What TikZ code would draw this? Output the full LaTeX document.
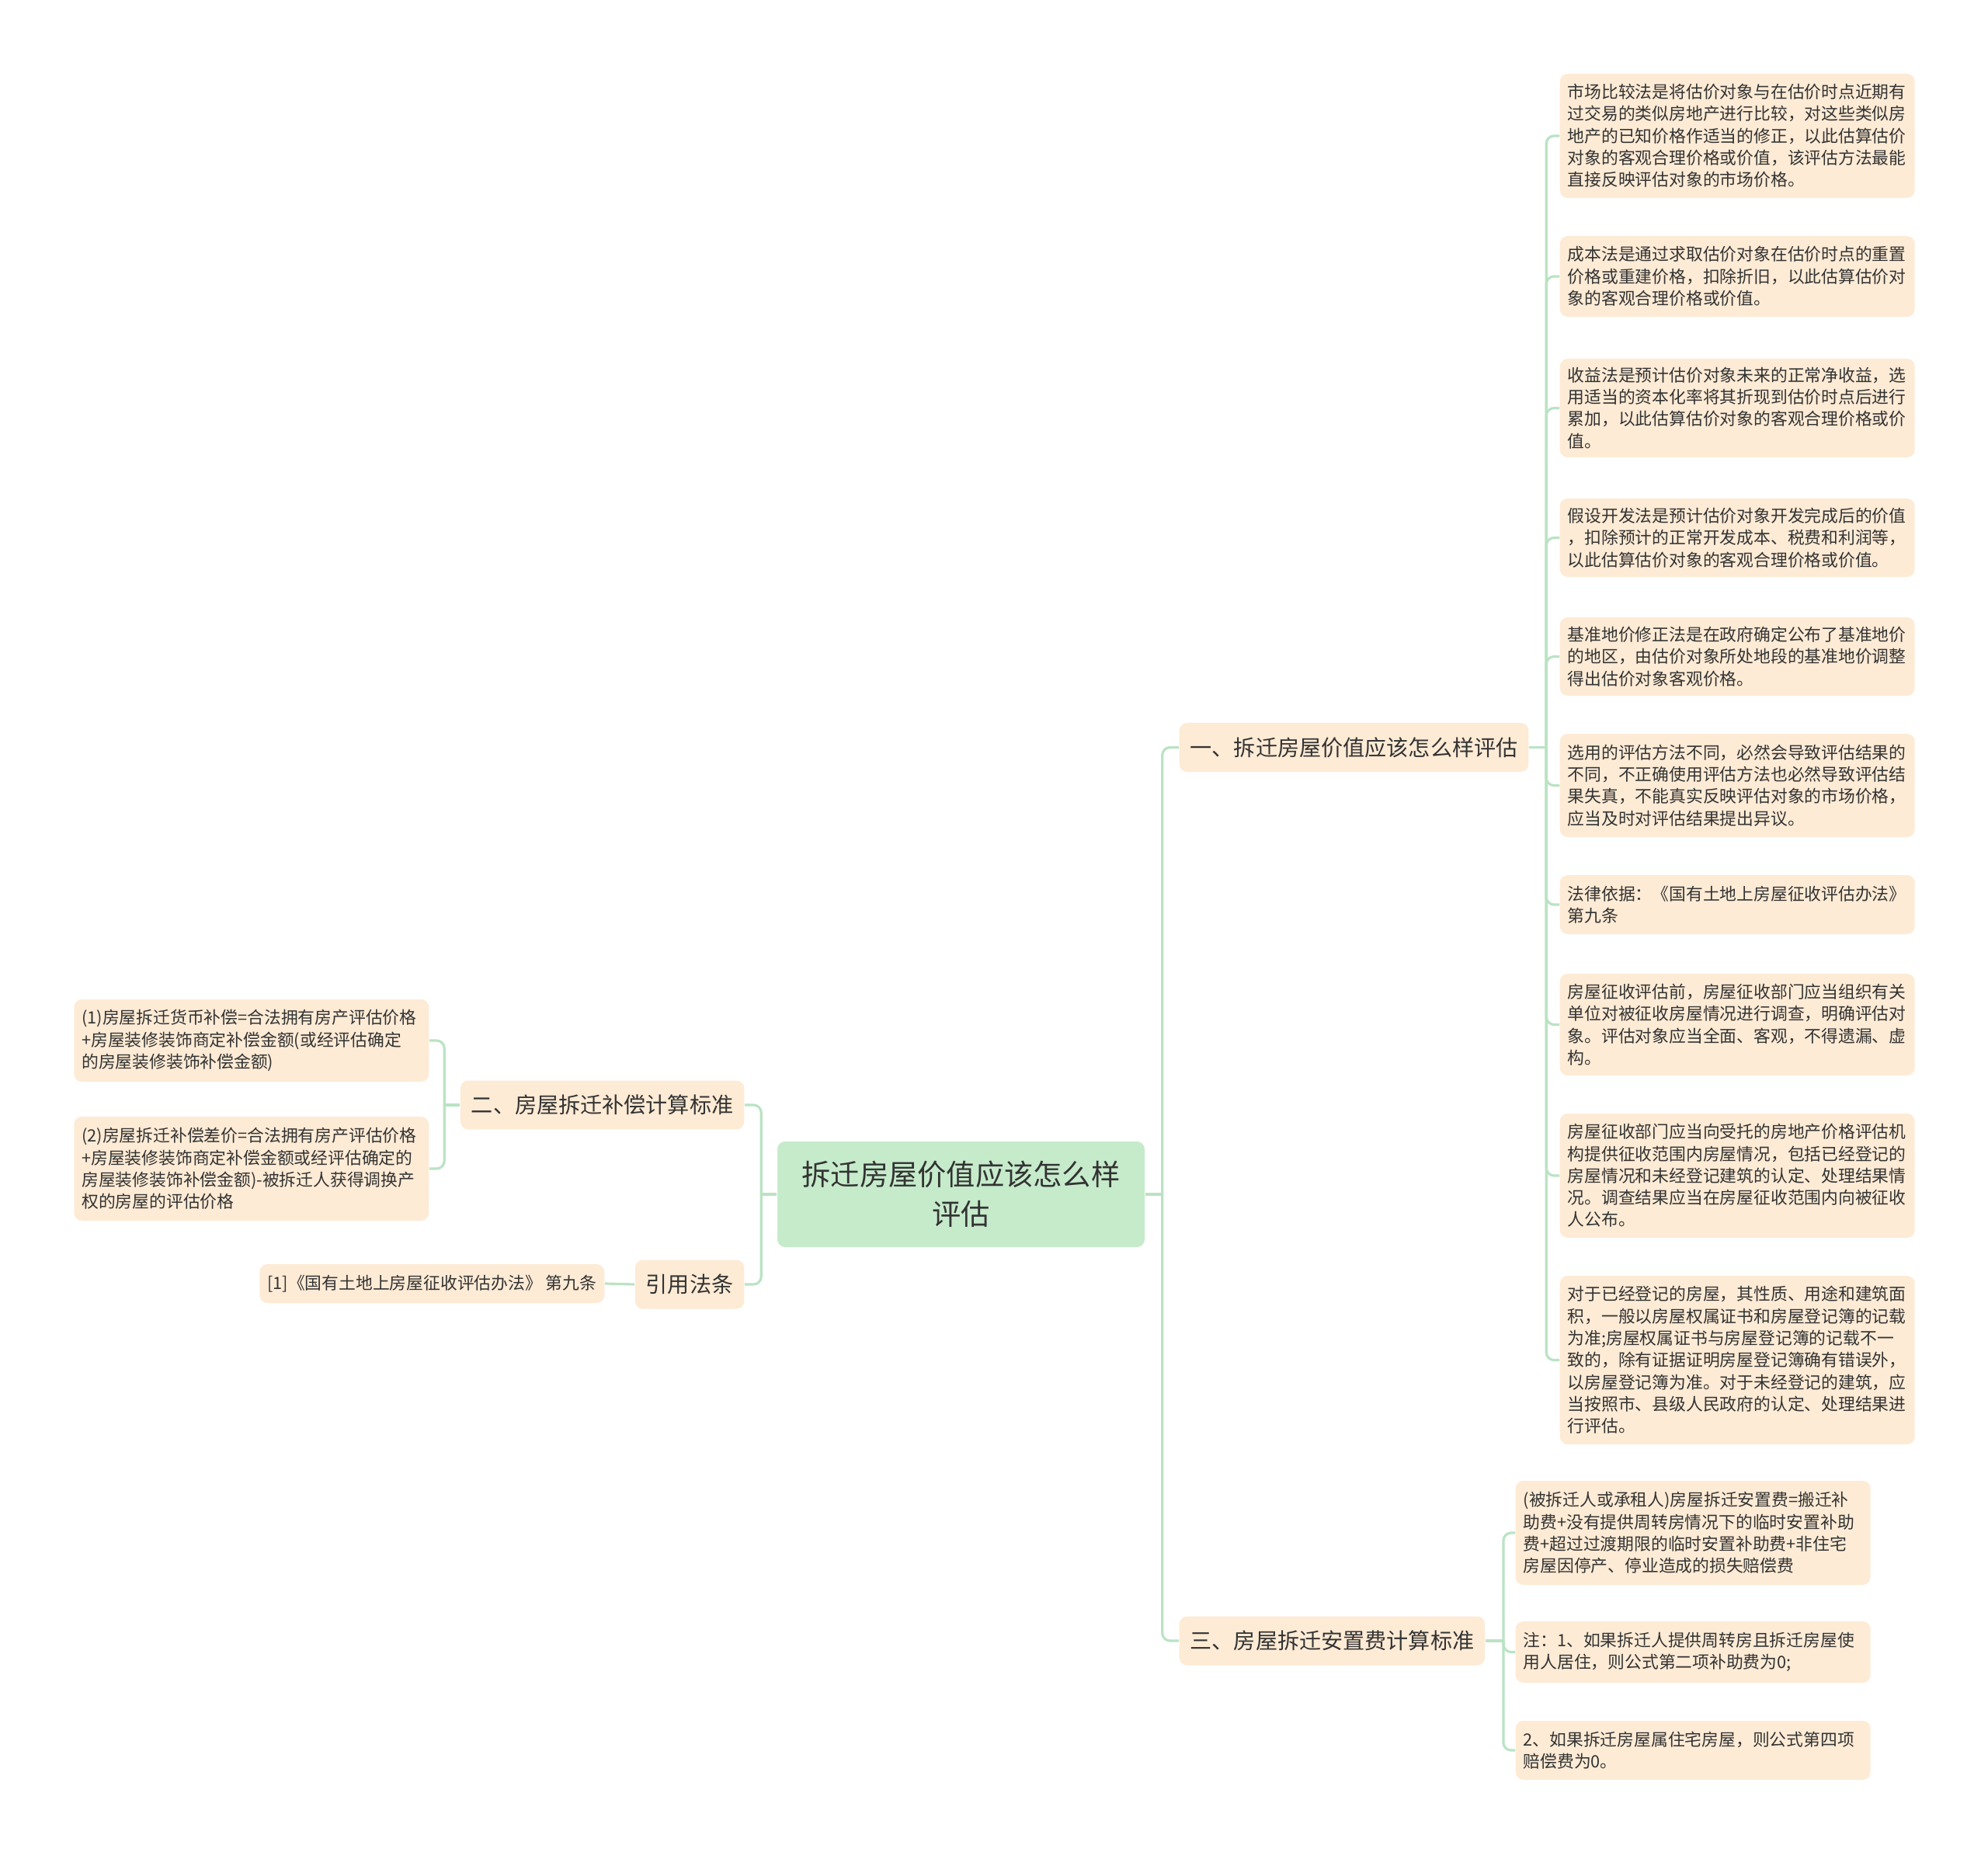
\documentclass[tikz,border=0pt]{standalone}
\usepackage{fontspec}
\setmainfont{Noto Sans CJK SC}
\usepackage{xcolor}
\definecolor{leaffill}{HTML}{FDEBD5}
\definecolor{rootfill}{HTML}{C6EBCB}
\definecolor{linegreen}{HTML}{BAE3C3}
\definecolor{inkgray}{HTML}{333333}
\tikzset{
  rootbox/.style={fill=rootfill, rounded corners=0.1cm, align=center, text=inkgray,
    minimum width=4.73cm, minimum height=1.36cm, font=\fontsize{10.6pt}{14.5pt}\selectfont},
  branchbox/.style={fill=leaffill, rounded corners=0.1cm, text=inkgray, inner xsep=0.14cm,
    minimum height=0.63cm, font=\fontsize{8pt}{10pt}\selectfont},
  leafbox/.style={fill=leaffill, rounded corners=0.1cm, text=inkgray, align=left,
    text width=4.37cm, inner xsep=0.1cm, inner ysep=0pt, font=\fontsize{6.2pt}{8.05pt}\selectfont},
  link/.style={draw=linegreen, line width=0.9pt, rounded corners=0.1cm}
}
\begin{document}
\begin{tikzpicture}[y=-1cm]
	\useasboundingbox (0,0) rectangle (25.6,23.85);
	\node[rootbox] (root) at (12.375,15.38) {拆迁房屋价值应该怎么样\\评估};
	\node[branchbox, anchor=west] (b1) at (15.18,9.625) {一、拆迁房屋价值应该怎么样评估};
	\node[branchbox, anchor=east] (b2) at (9.59,14.23) {二、房屋拆迁补偿计算标准};
	\node[branchbox, anchor=east] (b4) at (9.59,16.54) {引用法条};
	\node[branchbox, anchor=west] (b3) at (15.18,21.13) {三、房屋拆迁安置费计算标准};
	\node[leafbox, anchor=west, minimum height=1.60cm] (a1) at (20.08,1.75) {市场比较法是将估价对象与在估价时点近期有\\过交易的类似房地产进行比较，对这些类似房\\地产的已知价格作适当的修正，以此估算估价\\对象的客观合理价格或价值，该评估方法最能\\直接反映评估对象的市场价格。};
	\node[leafbox, anchor=west, minimum height=1.04cm] (a2) at (20.08,3.56) {成本法是通过求取估价对象在估价时点的重置\\价格或重建价格，扣除折旧，以此估算估价对\\象的客观合理价格或价值。};
	\node[leafbox, anchor=west, minimum height=1.27cm] (a3) at (20.08,5.255) {收益法是预计估价对象未来的正常净收益，选\\用适当的资本化率将其折现到估价时点后进行\\累加，以此估算估价对象的客观合理价格或价\\值。};
	\node[leafbox, anchor=west, minimum height=1.01cm] (a4) at (20.08,6.925) {假设开发法是预计估价对象开发完成后的价值\\，扣除预计的正常开发成本、税费和利润等，\\以此估算估价对象的客观合理价格或价值。};
	\node[leafbox, anchor=west, minimum height=1.01cm] (a5) at (20.08,8.455) {基准地价修正法是在政府确定公布了基准地价\\的地区，由估价对象所处地段的基准地价调整\\得出估价对象客观价格。};
	\node[leafbox, anchor=west, minimum height=1.33cm] (a6) at (20.08,10.115) {选用的评估方法不同，必然会导致评估结果的\\不同，不正确使用评估方法也必然导致评估结\\果失真，不能真实反映评估对象的市场价格，\\应当及时对评估结果提出异议。};
	\node[leafbox, anchor=west, minimum height=0.76cm] (a7) at (20.08,11.65) {法律依据：《国有土地上房屋征收评估办法》\\第九条};
	\node[leafbox, anchor=west, minimum height=1.31cm] (a8) at (20.08,13.195) {房屋征收评估前，房屋征收部门应当组织有关\\单位对被征收房屋情况进行调查，明确评估对\\象。评估对象应当全面、客观，不得遗漏、虚\\构。};
	\node[leafbox, anchor=west, minimum height=1.60cm] (a9) at (20.08,15.14) {房屋征收部门应当向受托的房地产价格评估机\\构提供征收范围内房屋情况，包括已经登记的\\房屋情况和未经登记建筑的认定、处理结果情\\况。调查结果应当在房屋征收范围内向被征收\\人公布。};
	\node[leafbox, anchor=west, minimum height=2.17cm] (a10) at (20.08,17.515) {对于已经登记的房屋，其性质、用途和建筑面\\积，一般以房屋权属证书和房屋登记簿的记载\\为准;房屋权属证书与房屋登记簿的记载不一\\致的，除有证据证明房屋登记簿确有错误外，\\以房屋登记簿为准。对于未经登记的建筑，应\\当按照市、县级人民政府的认定、处理结果进\\行评估。};
	\node[leafbox, anchor=west, minimum height=1.34cm] (c1) at (19.51,19.74) {(被拆迁人或承租人)房屋拆迁安置费=搬迁补\\助费+没有提供周转房情况下的临时安置补助\\费+超过过渡期限的临时安置补助费+非住宅\\房屋因停产、停业造成的损失赔偿费};
	\node[leafbox, anchor=west, minimum height=0.79cm] (c2) at (19.51,21.275) {注：1、如果拆迁人提供周转房且拆迁房屋使\\用人居住，则公式第二项补助费为0;};
	\node[leafbox, anchor=west, minimum height=0.76cm] (c3) at (19.51,22.54) {2、如果拆迁房屋属住宅房屋，则公式第四项\\赔偿费为0。};
	\node[leafbox, anchor=east, minimum height=1.06cm] (d1) at (5.53,13.40) {(1)房屋拆迁货币补偿=合法拥有房产评估价格\\+房屋装修装饰商定补偿金额(或经评估确定\\的房屋装修装饰补偿金额)};
	\node[leafbox, anchor=east, minimum height=1.34cm] (d2) at (5.53,15.05) {(2)房屋拆迁补偿差价=合法拥有房产评估价格\\+房屋装修装饰商定补偿金额或经评估确定的\\房屋装修装饰补偿金额)-被拆迁人获得调换产\\权的房屋的评估价格};
	\node[leafbox, anchor=east, text width=, minimum height=0.50cm] (e1) at (7.79,16.53) {[1]《国有土地上房屋征收评估办法》 第九条};
	\coordinate (sr) at ([xshift=0.22cm]root.east);
	\coordinate (sl) at ([xshift=-0.2cm]root.west);
	\coordinate (s1) at ([xshift=0.22cm]b1.east);
	\coordinate (s2) at ([xshift=-0.2cm]b2.west);
	\coordinate (s3) at ([xshift=0.23cm]b3.east);
	\draw[link] (root.east) -- (sr);
	\draw[link] (root.west) -- (sl);
	\draw[link] (sr) |- (b1.west);
	\draw[link] (sr) |- (b3.west);
	\draw[link] (sl) |- (b2.east);
	\draw[link] (sl) |- (b4.east);
	\draw[link] (b1.east) -- (s1);
	\foreach \i in {1,...,10}
		\draw[link] (s1) |- (a\i.west);
	\draw[link] (b3.east) -- (s3);
	\foreach \i in {1,2,3}
		\draw[link] (s3) |- (c\i.west);
	\draw[link] (b2.west) -- (s2);
	\draw[link] (s2) |- (d1.east);
	\draw[link] (s2) |- (d2.east);
	\draw[link] (b4.west) -- (e1.east);
\end{tikzpicture}
\end{document}
